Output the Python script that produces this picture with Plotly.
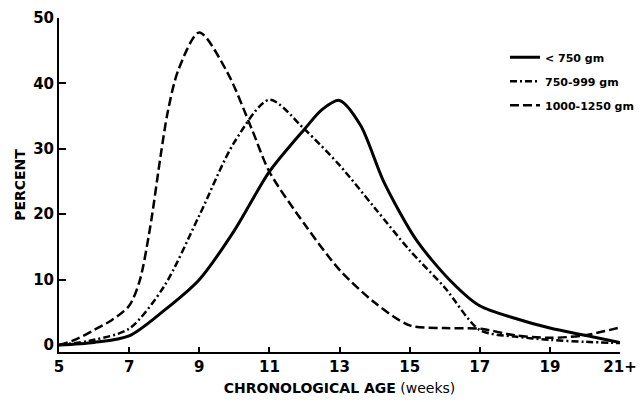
import plotly.graph_objects as go

# <750 gm
x_small = [5, 6, 7, 8, 9, 10, 11, 12, 12.5, 13, 13.6, 14.26, 15.2, 16.17, 17, 18, 19, 20, 21]
y_small = [0, 0.4, 1.4, 5.3, 10, 17.5, 26.5, 33, 36, 37.4, 33.6, 25, 16, 9.8, 6, 4.1, 2.6, 1.5, 0.4]

# 750-999 gm
x_mid = [5, 6, 7, 8, 9, 10, 11, 12, 13, 14, 15, 16, 17, 18, 19, 20, 21]
y_mid = [0, 0.8, 2.5, 9, 19.8, 31, 37.5, 33, 27.5, 21, 14.5, 8.8, 2.3, 1.3, 0.8, 0.5, 0.3]

# 1000-1250 gm
x_big = [5, 5.5, 6, 6.5, 7, 7.3, 7.6, 7.9, 8.1, 8.4, 9, 9.8, 10.5, 11, 12, 13, 14, 15, 16, 17, 18, 19, 20, 21]
y_big = [0, 0.9, 2.3, 3.8, 6, 9.8, 18, 29, 35.6, 42, 47.8, 41.7, 33, 26.5, 18.5, 11.5, 6.5, 3.0, 2.6, 2.5, 1.5, 1.1, 1.5, 2.7]

x_ticks = [5, 7, 9, 11, 13, 15, 17, 19, 21]
x_ticktext = ["5", "7", "9", "11", "13", "15", "17", "19", "21+"]
y_ticks = [0, 10, 20, 30, 40, 50]

FONT = "DejaVu Sans, sans-serif"

fig = go.Figure()
fig.add_trace(go.Scatter(x=x_small, y=y_small, mode="lines", name="< 750 gm", legendgroup="a",
                         line=dict(color="black", width=3, shape="spline", smoothing=0.8)))
fig.add_trace(go.Scatter(x=x_mid, y=y_mid, mode="lines", name="750-999 gm", legendgroup="b",
                         line=dict(color="black", width=2.5, dash="7px,3px,2px,3px",
                                   shape="spline", smoothing=0.8)))
fig.add_trace(go.Scatter(x=x_big, y=y_big, mode="lines", name="1000-1250 gm", legendgroup="c",
                         line=dict(color="black", width=2.5, dash="9px,4px",
                                   shape="spline", smoothing=0.8)))

# page body has an 8px default margin, so figure is sized to the remaining area
fig.update_layout(
    width=636, height=394,
    margin=dict(l=51, r=24, t=10, b=50, autoexpand=False),
    paper_bgcolor="white", plot_bgcolor="white",
    font=dict(family=FONT, color="black"),
    showlegend=True,
    legend=dict(x=0.795, y=0.926, xanchor="left", yanchor="top",
                font=dict(family=FONT, size=11, color="black", weight="bold"),
                bgcolor="rgba(0,0,0,0)", tracegroupgap=5, itemwidth=30),
    xaxis=dict(range=[5, 21], tickvals=x_ticks, ticktext=x_ticktext, automargin=False,
               showgrid=False, zeroline=False, showline=True, linecolor="black", linewidth=2,
               ticks="inside", ticklen=5, tickwidth=1.5, tickcolor="black",
               ticklabeloverflow="allow",
               tickfont=dict(family=FONT, size=15, weight="bold"),
               title=dict(text="<b>CHRONOLOGICAL AGE</b> (weeks)",
                          font=dict(family=FONT, size=14), standoff=8)),
    yaxis=dict(range=[-1.06, 50], tickvals=y_ticks, automargin=False,
               showgrid=False, zeroline=False, showline=True, linecolor="black", linewidth=2,
               ticks="inside", ticklen=7, tickwidth=1.5, tickcolor="black",
               ticklabeloverflow="allow",
               tickfont=dict(family=FONT, size=15, weight="bold"),
               title=dict(text="PERCENT", font=dict(family=FONT, size=14, weight="bold"),
                          standoff=4)),
)

fig.write_html("out.html")
